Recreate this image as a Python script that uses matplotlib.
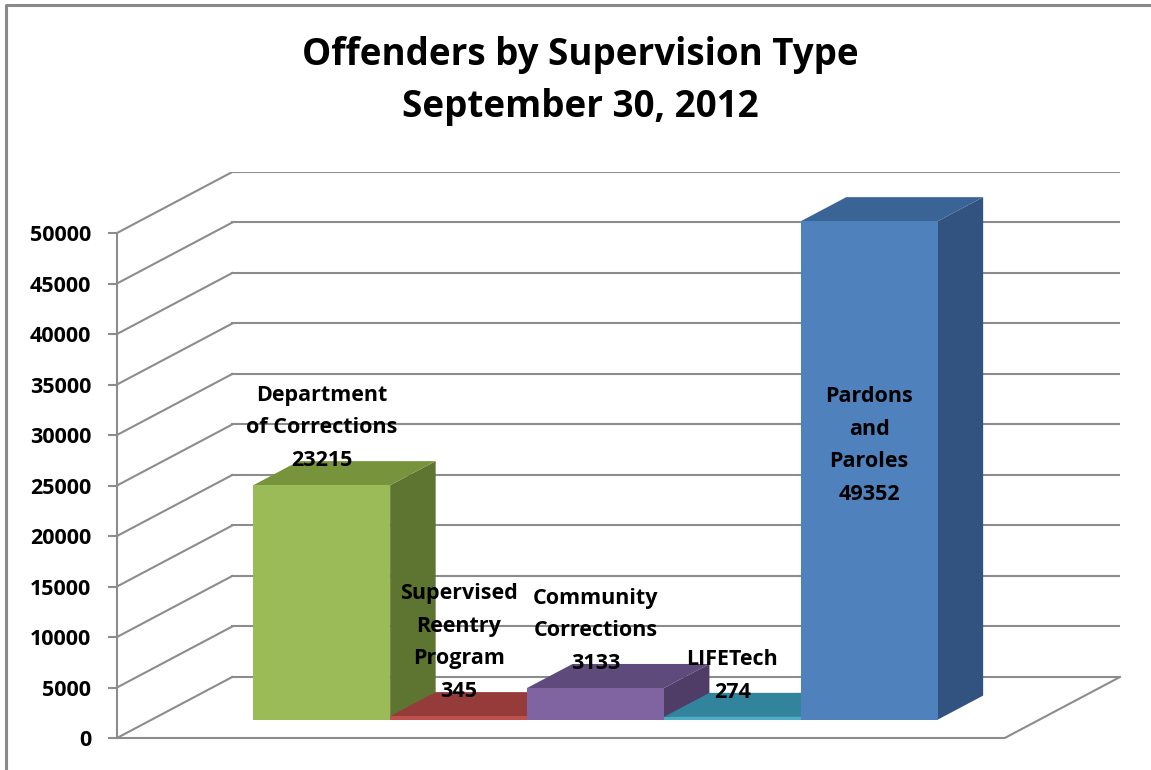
import matplotlib.pyplot as plt
from matplotlib.patches import Polygon
from matplotlib.lines import Line2D

plt.rcParams['font.family'] = ['Open Sans', 'DejaVu Sans']
plt.rcParams['font.weight'] = 'bold'

# data
categories = ["Department\nof Corrections", "Supervised\nReentry\nProgram",
              "Community\nCorrections", "LIFETech", "Pardons\nand\nParoles"]
offenders = [23215, 345, 3133, 274, 49352]
y_ticks = list(range(0, 50001, 5000))
title_lines = ["Offenders by Supervision Type", "September 30, 2012"]

# look
front_colors = ["#9BBB59", "#C0504D", "#8064A2", "#4BACC6", "#4F81BD"]
top_colors = ["#77933C", "#953B39", "#5F4B7B", "#31849B", "#3B6496"]
side_colors = ["#5E7431", "#7A2F2D", "#4F3D68", "#276A7C", "#325380"]
label_inside = [False, False, False, False, True]
grid_color = "#8C8C8C"

# oblique projection: full depth of the box in data units
DX, DY = 0.842, 6040
D0, D1 = 0.30, 0.695      # bar front / back depth
GAP = 0.743               # floor margin beside the bars

n = len(offenders)
x_left = -0.5 - GAP
x_right = n - 0.5 + GAP
y_top = y_ticks[-1]

fig = plt.figure(figsize=(11.51, 7.70), dpi=100)
ax = fig.add_axes([117 / 1151, 32 / 770, 1003 / 1151, 566 / 770])
ax.set_xlim(x_left, x_right + DX)
ax.set_ylim(0, y_top + DY)

lw = 1.5
# back wall gridlines and left wall diagonals
for v in y_ticks:
    ax.plot([x_left + DX, x_right + DX], [v + DY, v + DY], color=grid_color, lw=lw, zorder=1)
    ax.plot([x_left, x_left + DX], [v, v + DY], color=grid_color, lw=lw, zorder=1)
# floor
ax.plot([x_left, x_right, x_right + DX], [0, 0, DY], color=grid_color, lw=lw,
        zorder=1, clip_on=False)

# bars
dd = D1 - D0
for i, v in enumerate(offenders):
    xl = i - 0.5 + D0 * DX
    xr = i + 0.5 + D0 * DX
    y0 = D0 * DY
    front = Polygon([(xl, y0), (xr, y0), (xr, y0 + v), (xl, y0 + v)],
                    closed=True, fc=front_colors[i], ec='none', zorder=3)
    top = Polygon([(xl, y0 + v), (xr, y0 + v), (xr + dd * DX, y0 + v + dd * DY),
                   (xl + dd * DX, y0 + v + dd * DY)],
                  closed=True, fc=top_colors[i], ec='none', zorder=3)
    side = Polygon([(xr, y0), (xr, y0 + v), (xr + dd * DX, y0 + v + dd * DY),
                    (xr + dd * DX, y0 + dd * DY)],
                   closed=True, fc=side_colors[i], ec='none', zorder=3)
    for p in (side, top, front):
        ax.add_patch(p)

    label = f"{categories[i]}\n{v}"
    cx = i + D0 * DX
    if label_inside[i]:
        ax.text(cx, y0 + v * 0.55, label, ha='center', va='center',
                fontsize=15.5, linespacing=1.72, zorder=5)
    else:
        ax.annotate(label, (cx, D1 * DY + v), xytext=(0, -7), textcoords='offset points',
                    ha='center', va='bottom', fontsize=15.5, linespacing=1.72, zorder=5)

# front value axis
for s in ['top', 'right', 'bottom']:
    ax.spines[s].set_visible(False)
ax.spines['left'].set_bounds(0, y_top)
ax.spines['left'].set_color(grid_color)
ax.spines['left'].set_linewidth(lw)
ax.set_yticks(y_ticks)
ax.set_yticklabels([str(t) for t in y_ticks])
ax.tick_params(axis='y', direction='out', length=6.5, width=lw, color=grid_color,
               pad=12, labelsize=15.5)
ax.set_xticks([])
ax.patch.set_alpha(0)

# title
fig.text(580 / 1151, 1 - 81 / 770, "\n".join(title_lines), ha='center', va='center',
         fontsize=26.5, linespacing=1.5)

# chart border (top and left only are visible)
fig.add_artist(Line2D([6 / 1151, 6 / 1151, 1], [0, 1 - 5 / 770, 1 - 5 / 770],
                      transform=fig.transFigure, color="#8A8A8A", lw=2.2))

fig.savefig("out.png", dpi=100)
